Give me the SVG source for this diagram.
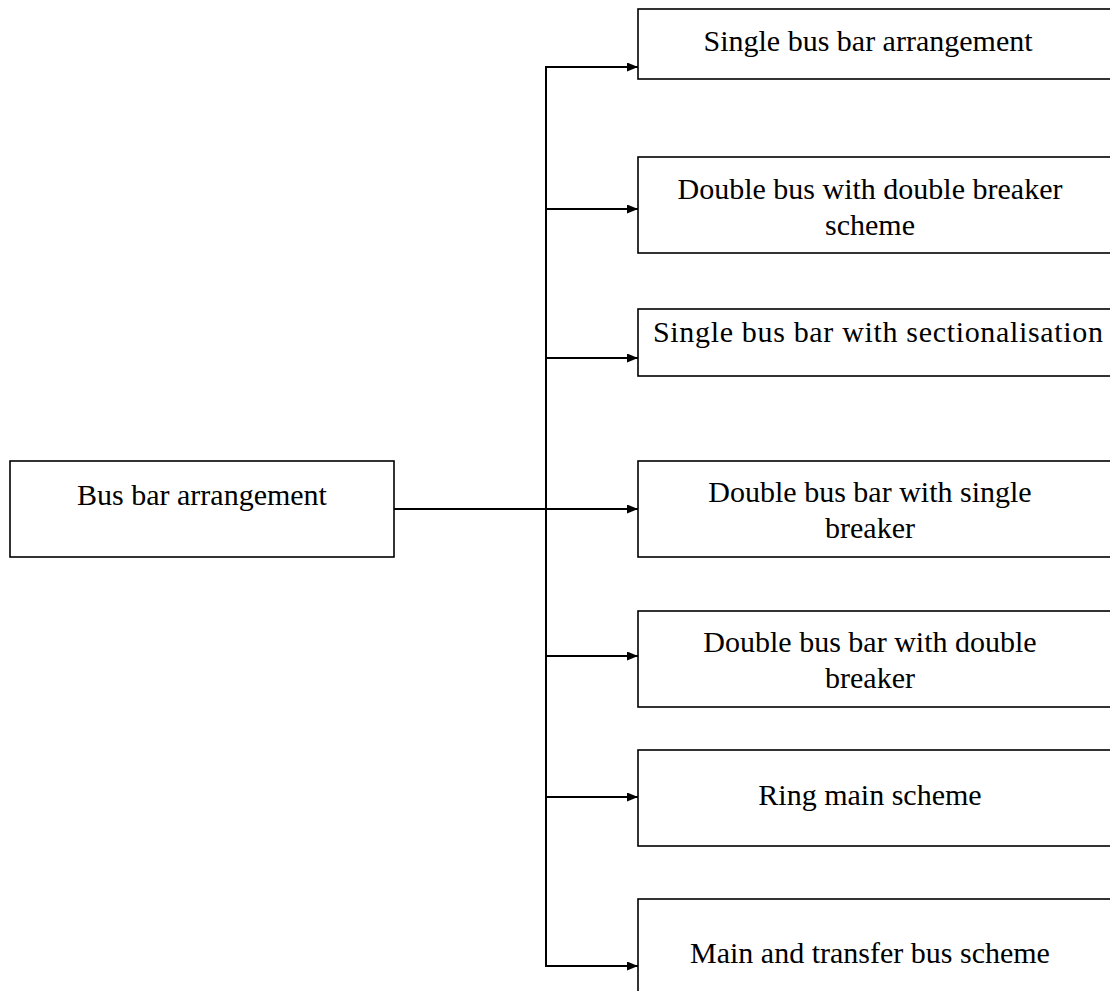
<svg xmlns="http://www.w3.org/2000/svg" width="1110" height="991" viewBox="0 0 1110 991">
  <style>
    .box { fill: #ffffff; stroke: #000000; stroke-width: 1.6; }
    .lbl { font-family: "Liberation Serif", "Times New Roman", serif; font-size: 30px; fill: #000000; text-anchor: middle; }
    .wire { fill: none; stroke: #000000; stroke-width: 2; }
  </style>
  <defs>
    <marker id="arrow" markerWidth="11" markerHeight="9" refX="11" refY="4.5" orient="auto" markerUnits="userSpaceOnUse">
      <path d="M0,0 L11,4.5 L0,9 Z" fill="#000000"/>
    </marker>
  </defs>
  <rect width="1110" height="991" fill="#ffffff"/>

  <!-- connectors: trunk from the root box, vertical bus and branches -->
  <g id="connectors">
    <line class="wire" x1="394" y1="509" x2="638" y2="509" marker-end="url(#arrow)"/>
    <line class="wire" x1="546" y1="66" x2="546" y2="967"/>
    <line class="wire" x1="545" y1="67" x2="638" y2="67" marker-end="url(#arrow)"/>
    <line class="wire" x1="546" y1="209" x2="638" y2="209" marker-end="url(#arrow)"/>
    <line class="wire" x1="546" y1="358" x2="638" y2="358" marker-end="url(#arrow)"/>
    <line class="wire" x1="546" y1="656" x2="638" y2="656" marker-end="url(#arrow)"/>
    <line class="wire" x1="546" y1="797" x2="638" y2="797" marker-end="url(#arrow)"/>
    <line class="wire" x1="545" y1="966" x2="638" y2="966" marker-end="url(#arrow)"/>
  </g>

  <!-- root -->
  <g id="root">
    <rect class="box" x="10" y="461" width="384" height="96"/>
    <text class="lbl" x="202" y="505">Bus bar arrangement</text>
  </g>

  <!-- schemes -->
  <g id="single-bus">
    <rect class="box" x="638" y="9" width="480" height="70"/>
    <text class="lbl" x="868" y="51">Single bus bar arrangement</text>
  </g>
  <g id="double-bus-double-breaker-scheme">
    <rect class="box" x="638" y="157" width="480" height="96"/>
    <text class="lbl" x="870" y="199">Double bus with double breaker</text>
    <text class="lbl" x="870" y="235">scheme</text>
  </g>
  <g id="sectionalised-bus">
    <rect class="box" x="638" y="309" width="480" height="67"/>
    <text class="lbl" x="878" y="342" textLength="450">Single bus bar with sectionalisation</text>
  </g>
  <g id="double-bus-single-breaker">
    <rect class="box" x="638" y="461" width="480" height="96"/>
    <text class="lbl" x="870" y="502">Double bus bar with single</text>
    <text class="lbl" x="870" y="538">breaker</text>
  </g>
  <g id="double-bus-double-breaker">
    <rect class="box" x="638" y="611" width="480" height="96"/>
    <text class="lbl" x="870" y="652">Double bus bar with double</text>
    <text class="lbl" x="870" y="688">breaker</text>
  </g>
  <g id="ring-main">
    <rect class="box" x="638" y="750" width="480" height="96"/>
    <text class="lbl" x="870" y="805">Ring main scheme</text>
  </g>
  <g id="main-transfer">
    <rect class="box" x="638" y="899" width="480" height="110"/>
    <text class="lbl" x="870" y="963">Main and transfer bus scheme</text>
  </g>
</svg>
